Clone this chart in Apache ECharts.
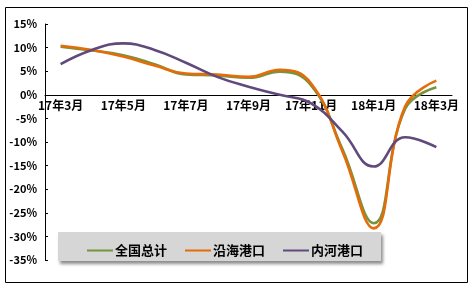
<!DOCTYPE html>
<html><head><meta charset="utf-8">
<script src="https://cdn.jsdelivr.net/npm/echarts@6/dist/echarts.min.js"></script>
<style>html,body{margin:0;padding:0;background:#fff}#c{width:475px;height:292px}</style>
</head><body><div id="c"></div>
<script>
const categories = ['17年3月','17年4月','17年5月','17年6月','17年7月','17年8月','17年9月','17年10月','17年11月','17年12月','18年1月','18年2月','18年3月'];
const seriesNames = ['全国总计','沿海港口','内河港口'];
const national = [10.2, 9.4, 8.4, 6.5, 4.3, 4.1, 3.6, 4.9, 2.0, -11.5, -27.2, -3.0, 1.6];
const coastal  = [10.4, 9.5, 8.1, 6.2, 4.5, 4.3, 3.8, 5.3, 2.4, -12.0, -28.3, -2.5, 3.0];
const inland   = [6.5, 9.5, 10.9, 9.5, 6.8, 3.8, 1.7, 0.0, -1.8, -7.8, -15.2, -9.0, -11.1];
const yMin = -35, yMax = 15, yStep = 5;

const colors = ['#77933C', '#E46C0A', '#604A7B'];
const fontFam = '"Noto Sans CJK SC", "DejaVu Sans", sans-serif';
const gridTop = 24, gridBottom = 32, H = 292;
const plotH = H - gridTop - gridBottom;
const zeroOffset = -plotH * (0 - yMin) / (yMax - yMin);
const chart = echarts.init(document.getElementById('c'), null, {renderer: 'canvas'});
const mk = (name, data, i) => ({
  name, type: 'line', data, smooth: 0.45, symbol: 'none',
  lineStyle: {color: colors[i], width: 2.6}, itemStyle: {color: colors[i]}, z: 3 + i
});
chart.setOption({
  animation: false,
  backgroundColor: '#fff',
  color: colors,
  graphic: [
    {type: 'rect', shape: {x: 5.5, y: 7.5, width: 462, height: 275}, style: {fill: 'none', stroke: '#000', lineWidth: 1}, z: 0},
    {type: 'rect', shape: {x: 58, y: 232, width: 323, height: 29}, style: {fill: '#d6d6d6', shadowBlur: 3, shadowOffsetX: 2, shadowOffsetY: 3, shadowColor: 'rgba(0,0,0,0.45)'}, z: 10}
  ],
  grid: {left: 45, right: 23, top: gridTop, bottom: gridBottom, containLabel: false},
  legend: {
    data: seriesNames, left: 82, top: 239, itemWidth: 26, itemHeight: 2, itemGap: 18,
    icon: 'rect', z: 20,
    textStyle: {fontFamily: fontFam, fontWeight: 'bold', fontSize: 13, color: '#000', padding: [0,0,0,-3]}
  },
  xAxis: {
    type: 'category', data: categories, boundaryGap: true, position: 'bottom', offset: zeroOffset,
    axisLine: {onZero: false, lineStyle: {color: '#000', width: 1}},
    axisTick: {inside: true, length: 4, interval: 1, lineStyle: {color: '#000'}},
    axisLabel: {interval: 1, margin: 5, fontFamily: fontFam, fontWeight: 'bold', fontSize: 12, color: '#000'},
    splitLine: {show: false}
  },
  yAxis: {
    type: 'value', min: yMin, max: yMax, interval: yStep,
    axisLine: {show: true, lineStyle: {color: '#000', width: 1}},
    axisTick: {show: true, inside: true, length: 3, lineStyle: {color: '#000'}},
    axisLabel: {formatter: '{value}%', margin: 8, fontFamily: fontFam, fontWeight: 'bold', fontSize: 11, color: '#000'},
    splitLine: {show: false}
  },
  series: [mk(seriesNames[0], national, 0), mk(seriesNames[1], coastal, 1), mk(seriesNames[2], inland, 2)]
});
</script></body></html>
